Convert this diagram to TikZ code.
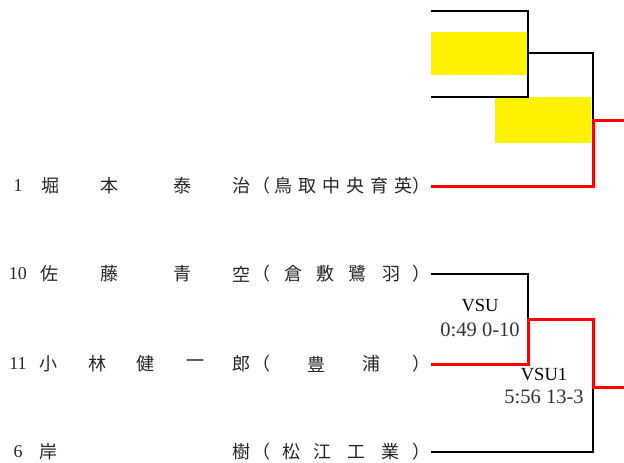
\documentclass[tikz,border=0pt]{standalone}
\usepackage{fontspec}
\setmainfont{Liberation Serif}
\newfontfamily\jpfont{Noto Sans CJK JP}
\usetikzlibrary{positioning}

\begin{document}
\begin{tikzpicture}[x=1pt,y=-1pt,line join=miter,
  jchar/.style={inner sep=0pt,text=black!85,font=\jpfont\fontsize{18}{18}\selectfont},
  seed/.style={inner sep=0pt,text=black!85,font=\fontsize{18}{18}\selectfont},
  res/.style={inner sep=0pt,font=\fontsize{18.5}{18.5}\selectfont},
  score/.style={inner sep=0pt,text=black!80,font=\fontsize{20.5}{20.5}\selectfont},
  lost/.style={black,line width=2.2pt},
  won/.style={red,line width=3pt},
  hilite/.style={fill=yellow}]
\useasboundingbox (0,0) rectangle (624,463);
\fill[hilite] (431,32) rectangle (527,75);
\fill[hilite] (495,97) rectangle (591,143);

% players
\node[seed] (sa) at (18,186) {1};
\foreach \c/\x [count=\i] in {堀/50,本/109,泰/182,治/241,鳥/283,取/307,中/331,央/355,育/379,英/403}
  \node[jchar] (a\i) at (\x,186) {\c};
\node[jchar] (ao) at (261,186) {（};
\node[jchar,anchor=east] (ac) at (431,186) {）};

\node[seed] (sb) at (18,274) {10};
\foreach \c/\x [count=\i] in {佐/49,藤/109,青/182,空/241,倉/293,敷/325,鷺/357,羽/391}
  \node[jchar] (b\i) at (\x,274) {\c};
\node[jchar] (bo) at (261,274) {（};
\node[jchar,anchor=east] (bc) at (431,274) {）};

\node[seed] (sc) at (18,364) {11};
\foreach \c/\x [count=\i] in {小/48,林/97,健/145,一/195,郎/241,豊/316,浦/371}
  \node[jchar] (c\i) at (\x,364) {\c};
\node[jchar] (co) at (261,364) {（};
\node[jchar,anchor=east] (cc) at (431,364) {）};

\node[seed] (sd) at (18,452) {6};
\foreach \c/\x [count=\i] in {岸/48,樹/241,松/291,江/322,工/356,業/390}
  \node[jchar] (d\i) at (\x,452) {\c};
\node[jchar] (do) at (261,452) {（};
\node[jchar,anchor=east] (dc) at (431,452) {）};

% bracket joints
\coordinate (t1) at (431,11);
\coordinate (t2) at (431,97);
\coordinate (qa) at (528,53);
\coordinate (ka) at (593,120);
\coordinate (oa) at (624,120);
\coordinate (qb) at (528,319);
\coordinate (kb) at (593,387);
\coordinate (ob) at (624,387);

\draw[lost] (t1) -| (qa) |- (t2);
\draw[lost] (qa) -| (ka);
\draw[won] (ac.east) -| (ka) -- (oa);

\draw[lost] (bc.east) -| (qb);
\draw[lost] (dc.east) -| (kb);
\draw[won] (cc.east) -| (qb) -| (kb) -- (ob);

% results
\node[res] (r1) at (480,306) {VSU};
\node[score] (s1) at (480,330) {0:49 0-10};
\node[res] (r2) at (544,375) {VSU1};
\node[score] (s2) at (544,397) {5:56 13-3};
\end{tikzpicture}
\end{document}
